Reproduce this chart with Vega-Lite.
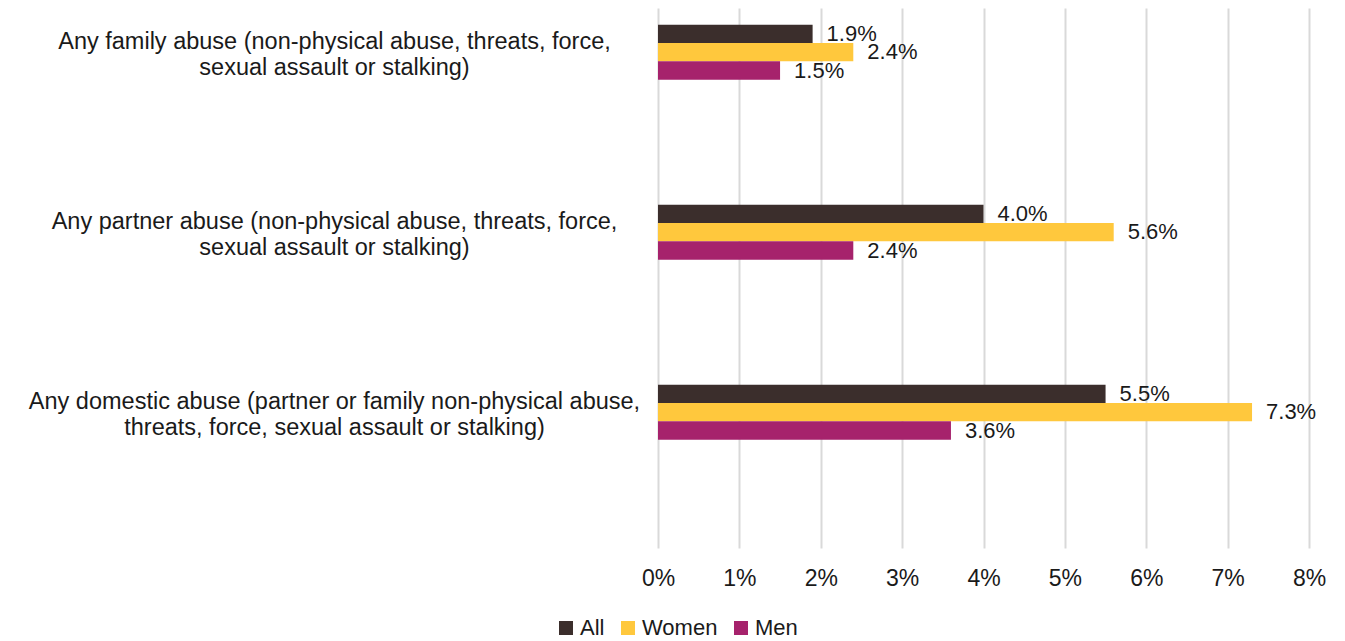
{
  "$schema": "https://vega.github.io/schema/vega-lite/v6.json",
  "autosize": "none",
  "width": 651,
  "height": 540,
  "padding": {"left": 658, "top": 8, "right": 36, "bottom": 93},
  "background": "white",
  "config": {
    "font": "Liberation Sans",
    "view": {"stroke": null}
  },
  "data": {
    "values": [
      {"category": "Any family abuse (non-physical abuse, threats, force,|sexual assault or stalking)", "group": "All", "value": 0.019},
      {"category": "Any family abuse (non-physical abuse, threats, force,|sexual assault or stalking)", "group": "Women", "value": 0.024},
      {"category": "Any family abuse (non-physical abuse, threats, force,|sexual assault or stalking)", "group": "Men", "value": 0.015},
      {"category": "Any partner abuse (non-physical abuse, threats, force,|sexual assault or stalking)", "group": "All", "value": 0.040},
      {"category": "Any partner abuse (non-physical abuse, threats, force,|sexual assault or stalking)", "group": "Women", "value": 0.056},
      {"category": "Any partner abuse (non-physical abuse, threats, force,|sexual assault or stalking)", "group": "Men", "value": 0.024},
      {"category": "Any domestic abuse (partner or family non-physical abuse,|threats, force, sexual assault or stalking)", "group": "All", "value": 0.055},
      {"category": "Any domestic abuse (partner or family non-physical abuse,|threats, force, sexual assault or stalking)", "group": "Women", "value": 0.073},
      {"category": "Any domestic abuse (partner or family non-physical abuse,|threats, force, sexual assault or stalking)", "group": "Men", "value": 0.036}
    ]
  },
  "encoding": {
    "y": {
      "field": "category",
      "type": "nominal",
      "sort": null,
      "scale": {"paddingInner": 0, "paddingOuter": 0},
      "axis": {
        "title": null,
        "domain": false,
        "ticks": false,
        "labelExpr": "split(datum.value, '|')",
        "labelAlign": "center",
        "labelPadding": 324,
        "labelOffset": -56,
        "labelFontSize": 23.5,
        "labelLineHeight": 26,
        "labelColor": "#1a1a1a",
        "labelLimit": 800
      }
    },
    "yOffset": {
      "field": "group",
      "type": "nominal",
      "scale": {"domain": ["All", "Women", "Men", "d1", "d2", "d3", "d4", "d5"], "paddingInner": 0, "paddingOuter": 0.91}
    },
    "x": {
      "field": "value",
      "type": "quantitative",
      "scale": {"domain": [0, 0.08], "nice": false},
      "axis": {
        "title": null,
        "values": [0, 0.01, 0.02, 0.03, 0.04, 0.05, 0.06, 0.07, 0.08],
        "format": ".0%",
        "labelFlush": false,
        "domain": false,
        "ticks": false,
        "grid": true,
        "gridColor": "#d9d9d9",
        "gridWidth": 2,
        "labelFontSize": 23,
        "labelColor": "#1a1a1a",
        "labelPadding": 19
      }
    }
  },
  "layer": [
    {
      "mark": {"type": "bar"},
      "encoding": {
        "color": {
          "field": "group",
          "type": "nominal",
          "scale": {"domain": ["All", "Women", "Men"], "range": ["#3b2e2c", "#ffc83d", "#a6226c"]},
          "legend": {
            "title": null,
            "orient": "none",
            "direction": "horizontal",
            "legendX": -103,
            "legendY": 609,
            "symbolType": "square",
            "symbolSize": 196,
            "symbolStrokeWidth": 0,
            "labelFontSize": 22,
            "labelColor": "#1a1a1a",
            "labelOffset": 3,
            "columnPadding": 12
          }
        }
      }
    },
    {
      "mark": {"type": "text", "align": "left", "baseline": "middle", "dx": 14, "fontSize": 22, "color": "#1a1a1a"},
      "encoding": {
        "text": {"field": "value", "type": "quantitative", "format": ".1%"}
      }
    }
  ]
}
